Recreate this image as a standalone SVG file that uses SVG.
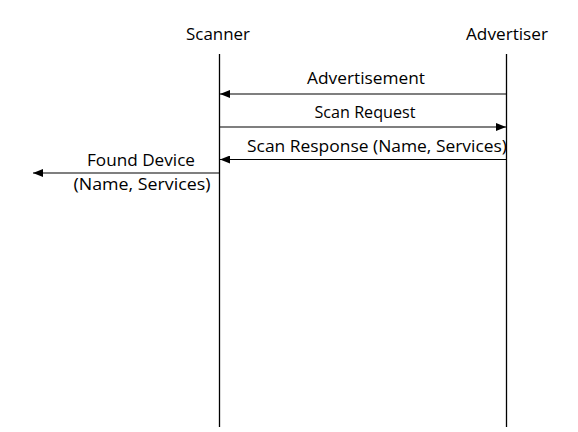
<svg xmlns="http://www.w3.org/2000/svg" width="578" height="432" viewBox="0 0 578 432">
<defs>
<marker id="ah" markerWidth="10" markerHeight="8" refX="10" refY="4" orient="auto" markerUnits="userSpaceOnUse">
<path d="M0,0 L10,4 L0,8 Z" fill="#000"/>
</marker>
</defs>
<style>
text{font-family:"Open Sans","Liberation Sans",sans-serif;font-size:15.5px;fill:#000;text-anchor:middle}
.life{stroke:#000;stroke-width:1.3;fill:none}
.msg{stroke:#000;stroke-width:1.2;fill:none;marker-end:url(#ah)}
</style>
<rect width="578" height="432" fill="#fff"/>
<g id="scanner">
<text x="218" y="40" textLength="64" lengthAdjust="spacingAndGlyphs">Scanner</text>
<line class="life" x1="219.5" y1="54" x2="219.5" y2="427"/>
</g>
<g id="advertiser">
<text x="507" y="40" textLength="82" lengthAdjust="spacingAndGlyphs">Advertiser</text>
<line class="life" x1="506.5" y1="54" x2="506.5" y2="427"/>
</g>
<g id="connectors">
<line class="msg" x1="506" y1="94" x2="220" y2="94"/>
<text x="366" y="84" textLength="118" lengthAdjust="spacingAndGlyphs">Advertisement</text>
<line class="msg" x1="220" y1="127" x2="506" y2="127"/>
<text x="365" y="118" textLength="101" lengthAdjust="spacingAndGlyphs">Scan Request</text>
<line class="msg" x1="506" y1="159.5" x2="220" y2="159.5"/>
<text x="377" y="152" textLength="260" lengthAdjust="spacingAndGlyphs">Scan Response (Name, Services)</text>
<line class="msg" x1="220" y1="173" x2="33" y2="173"/>
<text x="141" y="166" textLength="108" lengthAdjust="spacingAndGlyphs">Found Device</text>
<text x="142" y="190" textLength="137" lengthAdjust="spacingAndGlyphs">(Name, Services)</text>
</g>
</svg>
